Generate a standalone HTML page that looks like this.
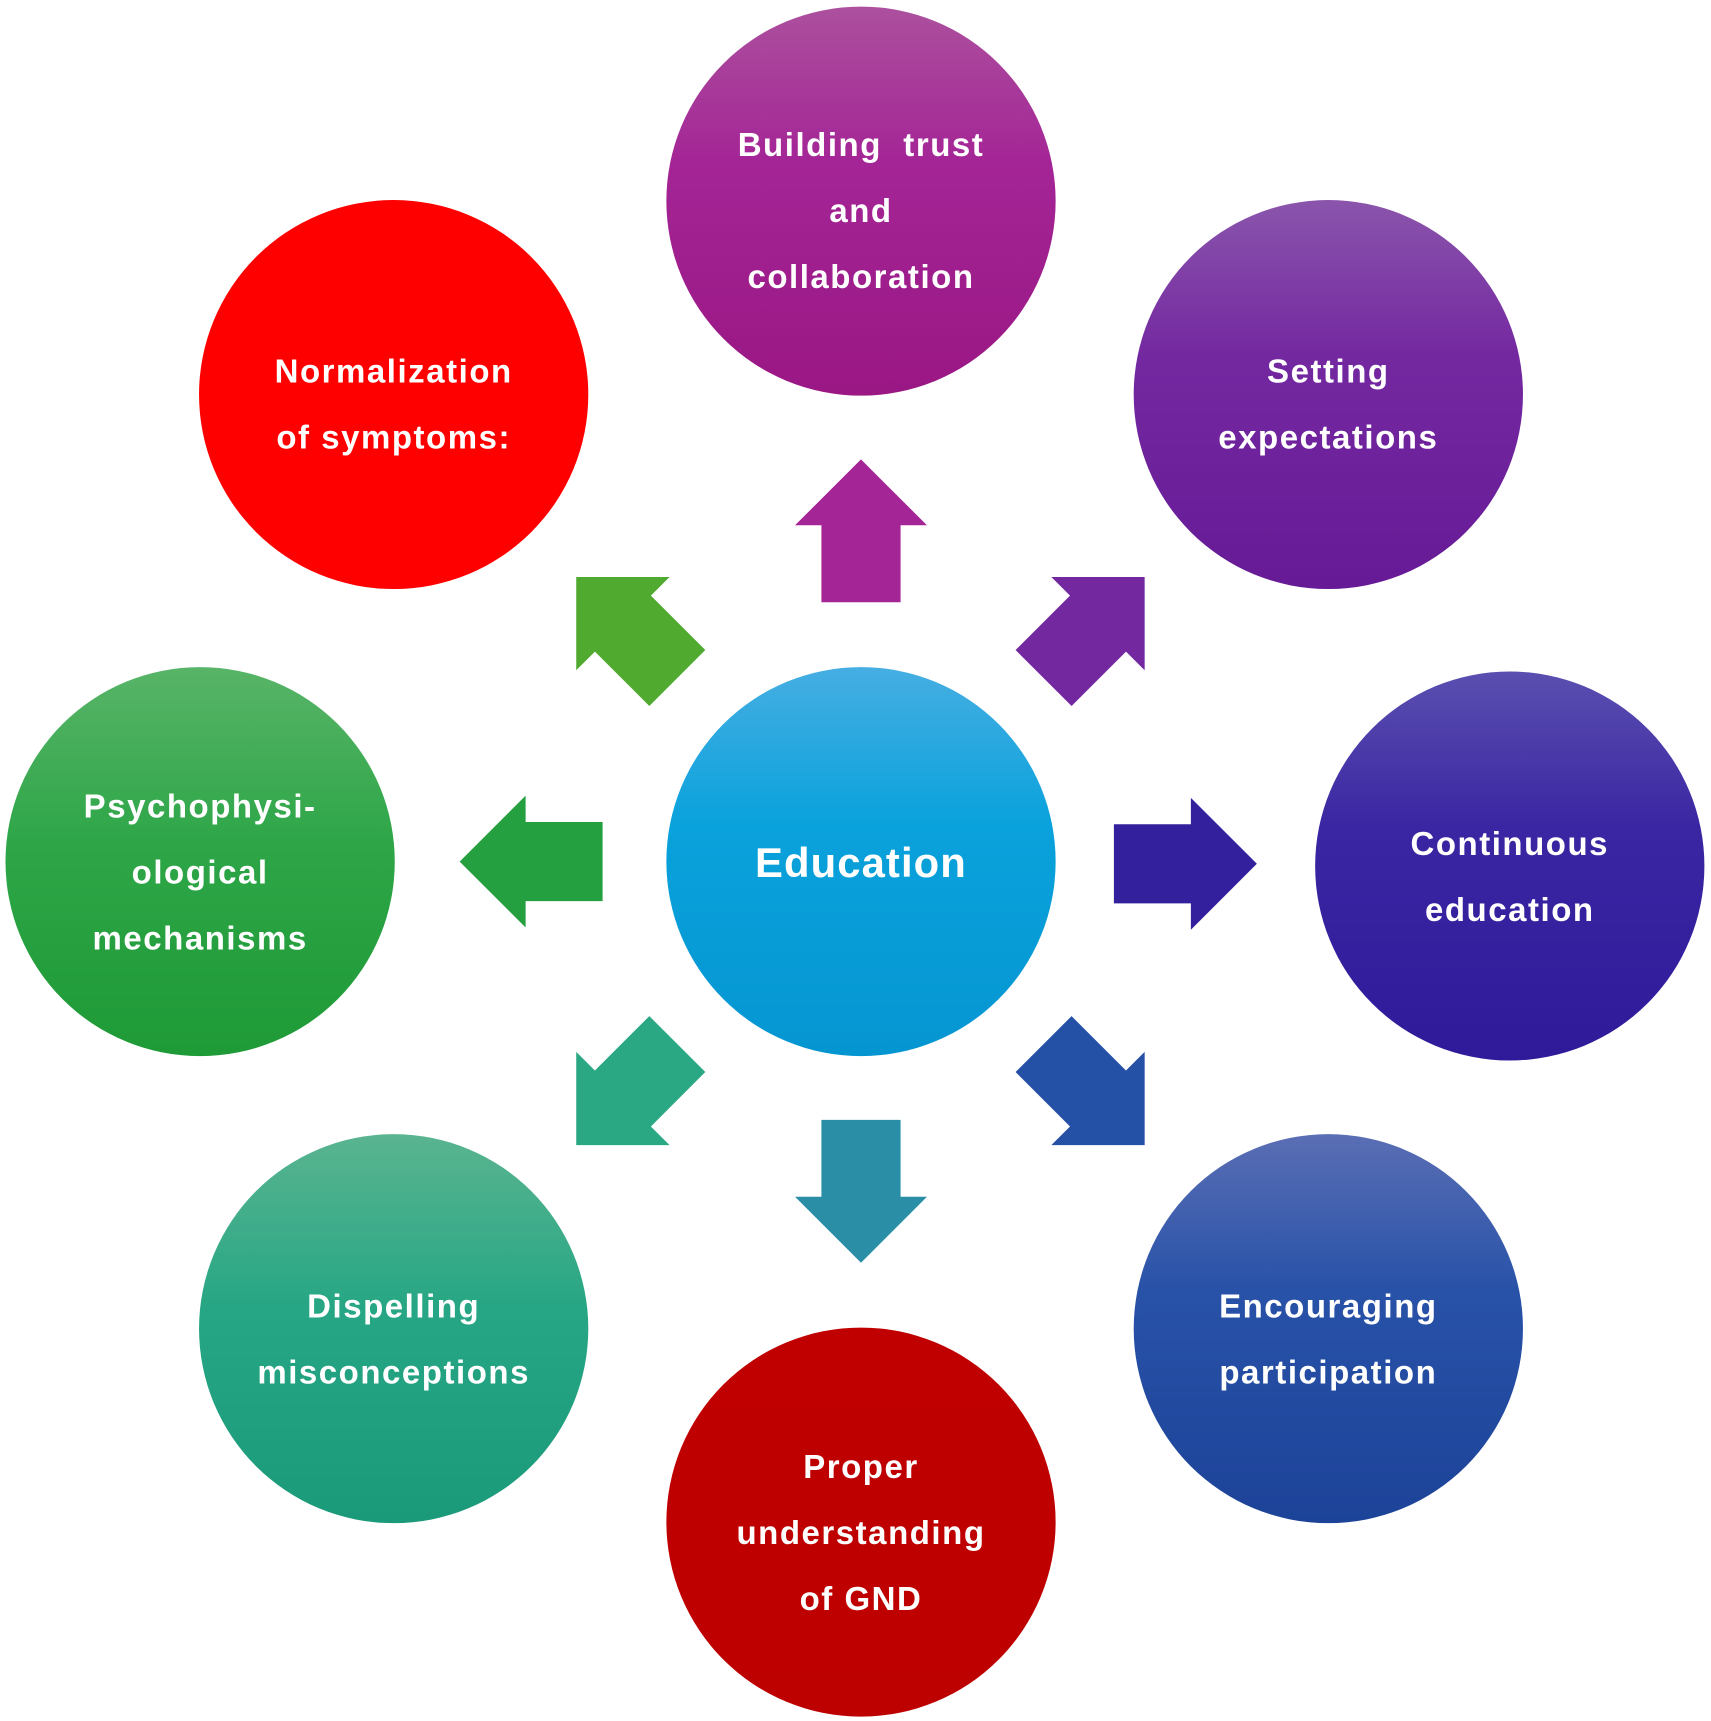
<!DOCTYPE html>
<html><head><meta charset="utf-8"><style>html,body{margin:0;padding:0;background:#fff}svg{display:block}</style></head><body>
<svg width="1711" height="1721" viewBox="0 0 1556 1566" preserveAspectRatio="none" xmlns="http://www.w3.org/2000/svg">
<defs>
<linearGradient id="gC" x1="0" y1="0" x2="0" y2="1"><stop offset="0" stop-color="#46aee2"/><stop offset="0.4" stop-color="#0aa2dc"/><stop offset="1" stop-color="#0596d2"/></linearGradient>
<linearGradient id="gT" x1="0" y1="0" x2="0" y2="1"><stop offset="0" stop-color="#ac509e"/><stop offset="0.4" stop-color="#a42596"/><stop offset="1" stop-color="#9a1784"/></linearGradient>
<linearGradient id="gTR" x1="0" y1="0" x2="0" y2="1"><stop offset="0" stop-color="#8a55ac"/><stop offset="0.4" stop-color="#7428a0"/><stop offset="1" stop-color="#661a96"/></linearGradient>
<linearGradient id="gR" x1="0" y1="0" x2="0" y2="1"><stop offset="0" stop-color="#5a4fb0"/><stop offset="0.4" stop-color="#3a26a2"/><stop offset="1" stop-color="#2f1a9a"/></linearGradient>
<linearGradient id="gBR" x1="0" y1="0" x2="0" y2="1"><stop offset="0" stop-color="#5a6eb4"/><stop offset="0.4" stop-color="#2852a8"/><stop offset="1" stop-color="#1c4398"/></linearGradient>
<linearGradient id="gB" x1="0" y1="0" x2="0" y2="1"><stop offset="0" stop-color="#c00000"/><stop offset="1" stop-color="#bd0000"/></linearGradient>
<linearGradient id="gBL" x1="0" y1="0" x2="0" y2="1"><stop offset="0" stop-color="#5ab490"/><stop offset="0.45" stop-color="#26a684"/><stop offset="1" stop-color="#1a9a78"/></linearGradient>
<linearGradient id="gL" x1="0" y1="0" x2="0" y2="1"><stop offset="0" stop-color="#58b468"/><stop offset="0.45" stop-color="#2ea648"/><stop offset="1" stop-color="#1e9a36"/></linearGradient>
<path id="arr" d="M0,-65 L60,-5 L36,-5 L36,65 L-36,65 L-36,-5 L-60,-5 Z"/>
</defs>
<g font-family="Liberation Sans, DejaVu Sans, sans-serif" font-weight="bold" fill="#fff" text-anchor="middle" font-size="30" letter-spacing="1.4">
<circle cx="783" cy="784" r="177" fill="url(#gC)"/>
<circle cx="783" cy="183" r="177" fill="url(#gT)"/>
<circle cx="1208" cy="359" r="177" fill="url(#gTR)"/>
<circle cx="1373" cy="788" r="177" fill="url(#gR)"/>
<circle cx="1208" cy="1209" r="177" fill="url(#gBR)"/>
<circle cx="783" cy="1385" r="177" fill="url(#gB)"/>
<circle cx="358" cy="1209" r="177" fill="url(#gBL)"/>
<circle cx="182" cy="784" r="177" fill="url(#gL)"/>
<circle cx="358" cy="359" r="177" fill="#fe0000"/>

<g transform="translate(783,483)"><use href="#arr" fill="#a42596"/></g>
<g transform="translate(995,571) rotate(45)"><use href="#arr" fill="#7428a0"/></g>
<g transform="translate(1078,786) rotate(90)"><use href="#arr" fill="#33209c"/></g>
<g transform="translate(995,996) rotate(135)"><use href="#arr" fill="#2450a6"/></g>
<g transform="translate(783,1084) rotate(180)"><use href="#arr" fill="#2a8ea6"/></g>
<g transform="translate(570,996) rotate(225)"><use href="#arr" fill="#2aa884"/></g>
<g transform="translate(483,784) rotate(270)"><use href="#arr" fill="#24a040"/></g>
<g transform="translate(570,571) rotate(315)"><use href="#arr" fill="#50aa30"/></g>

<text x="783" y="798" font-size="38" letter-spacing="1">Education</text>
<text x="783" y="142" xml:space="preserve">Building  trust</text>
<text x="783" y="202">and</text>
<text x="783" y="262">collaboration</text>
<text x="1208" y="348">Setting</text>
<text x="1208" y="408">expectations</text>
<text x="1373" y="778">Continuous</text>
<text x="1373" y="838">education</text>
<text x="1208" y="1199">Encouraging</text>
<text x="1208" y="1259">participation</text>
<text x="783" y="1345">Proper</text>
<text x="783" y="1405">understanding</text>
<text x="783" y="1465">of GND</text>
<text x="358" y="1199">Dispelling</text>
<text x="358" y="1259">misconceptions</text>
<text x="182" y="744">Psychophysi-</text>
<text x="182" y="804">ological</text>
<text x="182" y="864">mechanisms</text>
<text x="358" y="348">Normalization</text>
<text x="358" y="408">of symptoms:</text>
</g>
</svg>
</body></html>
